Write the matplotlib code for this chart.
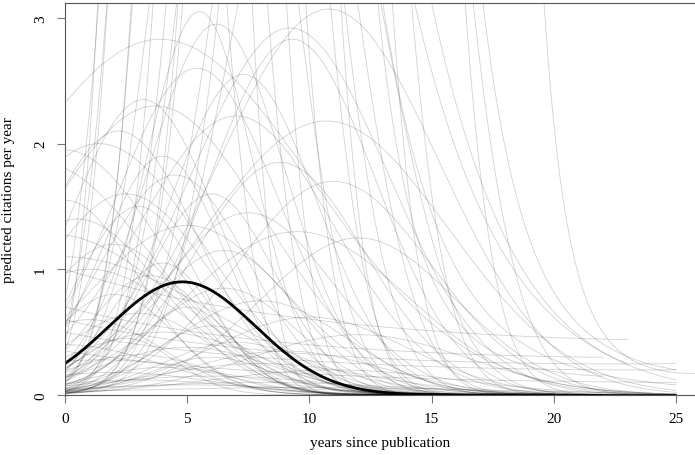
import numpy as np
import matplotlib
matplotlib.use("Agg")
import matplotlib.pyplot as plt

plt.rcParams['font.family'] = ['Liberation Serif', 'DejaVu Serif']

# Gaussian-shaped curves: (peak, year of peak, width, last year)
arcs_high = [
    (2.83, 3.9, 6.2, 24), (3.07, 10.8, 4.5, 25), (2.92, 9.2, 4.0, 23),
    (2.83, 9.3, 3.4, 22), (2.95, 6.2, 2.8, 20), (2.60, 5.4, 3.3, 25),
    (2.55, 7.3, 3.0, 21), (2.35, 3.2, 3.0, 18), (2.30, 3.7, 4.5, 25),
    (2.18, 10.7, 5.0, 25), (2.22, 7.0, 4.0, 22), (2.10, 2.2, 3.2, 19),
    (2.00, 1.4, 4.2, 25), (3.05, 5.5, 2.2, 17), (1.90, 4.0, 2.5, 20),
]
arcs_mid = [
    (1.75, 4.5, 3.0, 22), (1.60, 6.0, 2.6, 19), (1.85, 8.8, 3.5, 25),
    (1.70, 11.0, 4.0, 25), (1.50, 3.0, 2.5, 20), (1.45, 7.5, 3.5, 25),
    (1.35, 5.0, 4.0, 25), (1.30, 9.5, 4.5, 25), (1.20, 2.0, 3.0, 16),
    (1.25, 12.0, 4.0, 25), (1.15, 6.5, 3.0, 23), (1.05, 4.0, 2.2, 15),
    (1.60, 2.5, 3.5, 22), (1.40, 0.5, 3.5, 20), (1.95, 0.0, 4.0, 25),
    (1.85, -1.0, 4.5, 22), (1.55, 0.0, 3.0, 18), (1.28, -0.5, 5.0, 25),
    (1.10, 0.0, 6.0, 25), (1.00, 1.0, 4.0, 20),
]
arcs_low = [
    (0.95, 3.5, 2.5, 18), (0.85, 6.5, 3.0, 20), (0.80, 2.0, 2.5, 15),
    (0.75, 8.0, 3.5, 22), (0.70, 5.0, 2.0, 16), (0.65, 3.0, 3.0, 19),
    (0.62, 10.0, 4.0, 25), (0.60, 1.0, 3.0, 14), (0.55, 6.0, 2.5, 17),
    (0.50, 4.0, 4.0, 22), (0.48, 12.0, 4.5, 25), (0.45, 2.5, 2.0, 13),
    (0.42, 7.0, 3.0, 20), (0.40, 0.0, 4.0, 18), (0.38, 5.0, 3.5, 25),
    (0.35, 9.0, 4.0, 23), (0.32, 3.0, 3.0, 16), (0.30, 6.0, 2.5, 19),
    (0.28, 1.5, 5.0, 25), (0.25, 8.0, 4.5, 22), (0.22, 4.0, 3.0, 15),
    (0.20, 11.0, 5.0, 25), (0.18, 2.0, 4.0, 20), (0.15, 6.0, 5.0, 25),
    (0.12, 3.0, 4.0, 18), (0.10, 8.0, 6.0, 25), (0.08, 5.0, 5.0, 22),
    (0.06, 10.0, 8.0, 25),
]
# peaks far above the top of the plot
arcs_steep = [
    (20, 5.4, 1.9, 20), (15, 6.3, 2.0, 20), (25, 7.0, 2.1, 22),
    (12, 5.0, 2.0, 18), (30, 8.5, 2.3, 25), (10, 7.5, 2.2, 20),
    (18, 9.5, 2.5, 25), (8, 8.0, 2.5, 22), (40, 10.5, 2.6, 25),
    (6, 9.0, 2.6, 25), (22, 4.5, 1.6, 18), (9, 4.0, 1.8, 16),
    (5, 10.0, 3.0, 25), (14, 11.5, 3.0, 25), (7, 6.5, 2.4, 22),
]
# curves given by three points they pass through: (t1, v1, t2, v2, t3, v3, last year)
decays_right = [
    (19.6, 3.12, 22.0, 0.50, 25.8, 0.17, 26),
    (17.1, 3.12, 18.5, 1.56, 25.0, 0.20, 25),
    (15.0, 3.12, 17.3, 1.56, 25.0, 0.12, 25),
    (14.3, 3.12, 16.8, 1.56, 23.0, 0.25, 23),
    (12.8, 3.12, 14.0, 1.56, 22.0, 0.15, 22),
    (13.0, 3.12, 14.8, 1.56, 25.0, 0.08, 25),
]
flat_tails = [
    (0.0, 1.00, 12.0, 0.56, 23.0, 0.44, 23),
    (0.0, 0.60, 12.0, 0.30, 25.0, 0.25, 25),
    (0.0, 0.50, 12.0, 0.25, 25.0, 0.20, 25),
    (0.0, 0.35, 12.0, 0.15, 25.0, 0.10, 25),
    (0.0, 0.70, 10.0, 0.40, 22.0, 0.30, 22),
]
# highlighted paper
mean_curve = (0.90, 4.8, 3.0, 20)


def gauss_curve(peak, mid, width, end):
    t = np.linspace(0, end, 300)
    return t, peak * np.exp(-(t - mid) ** 2 / (2 * width ** 2))


def three_point_curve(t1, v1, t2, v2, t3, v3, end):
    A = np.array([[1, t1, t1 ** 2], [1, t2, t2 ** 2], [1, t3, t3 ** 2]])
    a, b, c = np.linalg.solve(A, np.log([v1, v2, v3]))
    t = np.linspace(0, end, 300)
    return t, np.exp(a + b * t + c * t ** 2)


fig = plt.figure(figsize=(6.95, 4.56), dpi=100)
ax = fig.add_axes([65 / 695, 1 - 396 / 456, 1 - 65 / 695, 392 / 456])

grey = dict(color='black', alpha=0.17, linewidth=0.65)
for group in (arcs_high, arcs_mid, arcs_low, arcs_steep):
    for p in group:
        ax.plot(*gauss_curve(*p), **grey)
for group in (decays_right, flat_tails):
    for p in group:
        ax.plot(*three_point_curve(*p), **grey)

ax.plot(*gauss_curve(*mean_curve), color='black', linewidth=2.0)

ax.set_xlim(0, (695 - 65) / 24.44)
ax.set_ylim(0, 392 / 125.7)
ax.set_xticks([0, 5, 10, 15, 20, 25])
ax.set_yticks([0, 1, 2, 3])
ax.spines['right'].set_visible(False)
for s in ('left', 'top', 'bottom'):
    ax.spines[s].set_color('#555555')
ax.tick_params(colors='#777777', labelcolor='black', length=6, labelsize=11)
ax.tick_params(axis='x', pad=6)
ax.tick_params(axis='y', labelrotation=90, pad=7)
for lab in ax.get_yticklabels():
    lab.set_va('center')

ax.set_xlabel("years since publication", fontsize=11, labelpad=8)
ax.set_ylabel("predicted citations per year", fontsize=11)
ax.yaxis.set_label_coords(-0.08, 0.5)

fig.savefig("out.png", dpi=100)
